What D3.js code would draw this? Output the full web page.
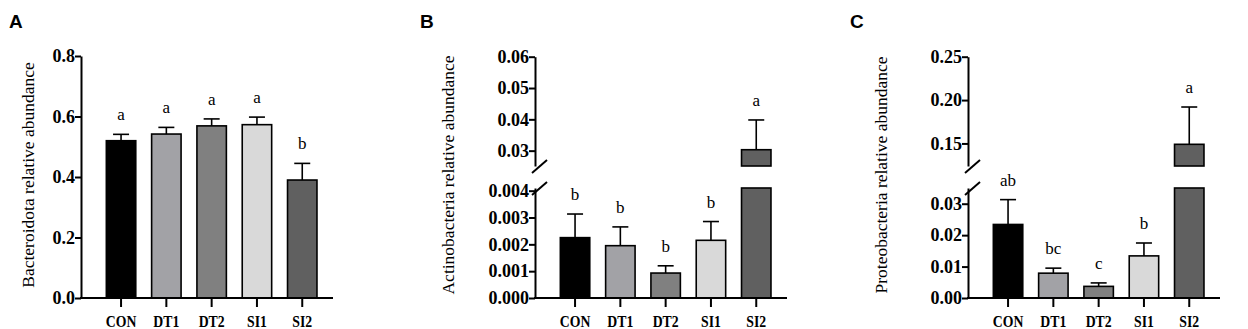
<!DOCTYPE html>
<html><head>
<meta charset="utf-8">
<script src="https://d3js.org/d3.v7.min.js"></script>
<style>
  body { margin: 0; background: #fff; }
  text { font-family: "Liberation Serif", "Times New Roman", serif; fill: #000; }
  .panel-letter { font-family: "Liberation Sans", Arial, sans-serif; font-weight: bold; font-size: 19px; }
  .axis text { font-weight: bold; }
  .axis line, .axis path { stroke: #000; stroke-width: 2px; }
</style>
</head>
<body>
<svg id="chart" width="1248" height="329"></svg>
<script>
// Groups shared by all three panels
const groups = ["CON", "DT1", "DT2", "SI1", "SI2"];

// A - Bacteroidota
const bacteroidotaMean = [0.520, 0.542, 0.569, 0.573, 0.390];
const bacteroidotaErr  = [0.021, 0.022, 0.023, 0.025, 0.055];
const bacteroidotaSig  = ["a", "a", "a", "a", "b"];
const bacteroidotaTicks = [0, 0.2, 0.4, 0.6, 0.8];

// B - Actinobacteria (broken axis)
const actinoMean = [0.00225, 0.00195, 0.00093, 0.00215, 0.0303];
const actinoErr  = [0.00088, 0.00070, 0.00027, 0.00070, 0.0095];
const actinoSig  = ["b", "b", "b", "b", "a"];
const actinoTicksLow  = [0, 0.001, 0.002, 0.003, 0.004];
const actinoTicksHigh = [0.03, 0.04, 0.05, 0.06];

// C - Proteobacteria (broken axis)
const proteoMean = [0.0234, 0.0079, 0.0037, 0.0134, 0.149];
const proteoErr  = [0.0079, 0.0016, 0.0011, 0.0041, 0.043];
const proteoSig  = ["ab", "bc", "c", "b", "a"];
const proteoTicksLow  = [0, 0.01, 0.02, 0.03];
const proteoTicksHigh = [0.15, 0.20, 0.25];

const svg = d3.select("#chart");
const color = d3.scaleOrdinal().domain(groups)
                .range(["#000000", "#a2a2a6", "#808080", "#d9d9d9", "#606060"]);

const yBottom = 298, yTop = 56;   // plot area vertical extent

function drawPanel(p) {
  const g = svg.append("g");
  const ax = p.ax;

  g.append("text").attr("class", "panel-letter")
   .attr("x", p.letterX).attr("y", 28).text(p.letter);

  // y axis title
  g.append("text")
   .attr("transform", `translate(${p.titleX},175) rotate(-90)`)
   .attr("text-anchor", "middle").attr("font-size", 17.5)
   .text(p.title);

  const x = d3.scaleBand().domain(groups)
              .range([ax + 17.4, ax + 17.4 + 5 * 45.3])
              .paddingInner(0.35).paddingOuter(0.175);

  // segments: one for a normal axis, two for a broken one
  let segs;
  if (p.broken) {
    segs = [
      { y: d3.scaleLinear().domain([0, p.lowMax]).range([yBottom, 188]), ticks: p.ticksLow, fmt: p.fmtLow, lo: 0, hi: p.lowMax },
      { y: d3.scaleLinear().domain([p.highMin, p.highMax]).range([166, yTop + 0.7]), ticks: p.ticksHigh, fmt: p.fmtHigh, lo: p.highMin, hi: p.highMax }
    ];
  } else {
    segs = [{ y: d3.scaleLinear().domain([0, p.max]).range([yBottom, yTop]), ticks: p.ticks, fmt: p.fmt, lo: 0, hi: p.max }];
  }

  const data = groups.map((k, i) => ({ k, m: p.mean[i], e: p.err[i], s: p.sig[i] }));

  // bars (split across segments)
  segs.forEach(s => {
    g.selectAll(null).data(data.filter(d => d.m > s.lo)).join("rect")
     .attr("x", d => x(d.k))
     .attr("width", x.bandwidth())
     .attr("y", d => s.y(Math.min(d.m, s.hi)))
     .attr("height", d => s.y(s.lo) - s.y(Math.min(d.m, s.hi)))
     .attr("fill", d => color(d.k))
     .attr("stroke", "#000").attr("stroke-width", 1.6);
  });

  // which segment holds a value
  const seg = v => segs.find(s => v >= s.lo && v <= s.hi) || segs[segs.length - 1];

  // error bars (upper only) and significance letters
  data.forEach(d => {
    const cx = x(d.k) + x.bandwidth() / 2;
    const s = seg(d.m);
    const y0 = s.y(d.m), y1 = s.y(d.m + d.e);
    g.append("line").attr("x1", cx).attr("x2", cx).attr("y1", y0).attr("y2", y1)
     .attr("stroke", "#000").attr("stroke-width", 1.6);
    g.append("line").attr("x1", cx - 8).attr("x2", cx + 8).attr("y1", y1).attr("y2", y1)
     .attr("stroke", "#000").attr("stroke-width", 1.6);
    g.append("text").attr("x", cx).attr("y", y1 - 14)
     .attr("text-anchor", "middle").attr("font-size", 17).text(d.s);
  });

  // y axes
  segs.forEach(s => {
    const ya = g.append("g").attr("class", "axis").attr("transform", `translate(${ax},0)`)
      .call(d3.axisLeft(s.y).tickValues(s.ticks).tickSize(6).tickSizeOuter(0).tickFormat(s.fmt));
    ya.selectAll("text").attr("font-size", 18).attr("x", -6);
  });

  // axis break marks
  if (p.broken) {
    [166, 188].forEach(yb => {
      g.append("line").attr("x1", ax - 3).attr("x2", ax + 12)
       .attr("y1", yb + 7).attr("y2", yb - 6)
       .attr("stroke", "#000").attr("stroke-width", 2);
    });
  }

  // x axis
  const xa = g.append("g").attr("class", "axis").attr("transform", `translate(0,${yBottom})`)
    .call(d3.axisBottom(x).tickSize(9).tickPadding(5));
  xa.select(".domain").remove();
  xa.append("line").attr("x1", ax - 1).attr("x2", ax + 252).attr("y1", 0).attr("y2", 0);
  xa.selectAll("text").attr("font-size", 16).attr("transform", "scale(0.86,1)").attr("dy", "0.95em");
}

drawPanel({
  letter: "A", letterX: 9, ax: 81, titleX: 34,
  title: "Bacteroidota relative abundance",
  mean: bacteroidotaMean, err: bacteroidotaErr, sig: bacteroidotaSig,
  max: 0.8, ticks: bacteroidotaTicks, fmt: d3.format(".1f")
});

drawPanel({
  letter: "B", letterX: 420, ax: 535, titleX: 454,
  title: "Actinobacteria relative abundance",
  mean: actinoMean, err: actinoErr, sig: actinoSig, broken: true,
  lowMax: 0.0041, highMin: 0.0251, highMax: 0.06,
  ticksLow: actinoTicksLow, ticksHigh: actinoTicksHigh,
  fmtLow: d3.format(".3f"), fmtHigh: d3.format(".2f")
});

drawPanel({
  letter: "C", letterX: 850, ax: 968, titleX: 887,
  title: "Proteobacteria relative abundance",
  mean: proteoMean, err: proteoErr, sig: proteoSig, broken: true,
  lowMax: 0.035, highMin: 0.124, highMax: 0.25,
  ticksLow: proteoTicksLow, ticksHigh: proteoTicksHigh,
  fmtLow: d3.format(".2f"), fmtHigh: d3.format(".2f")
});
</script>
</body></html>
